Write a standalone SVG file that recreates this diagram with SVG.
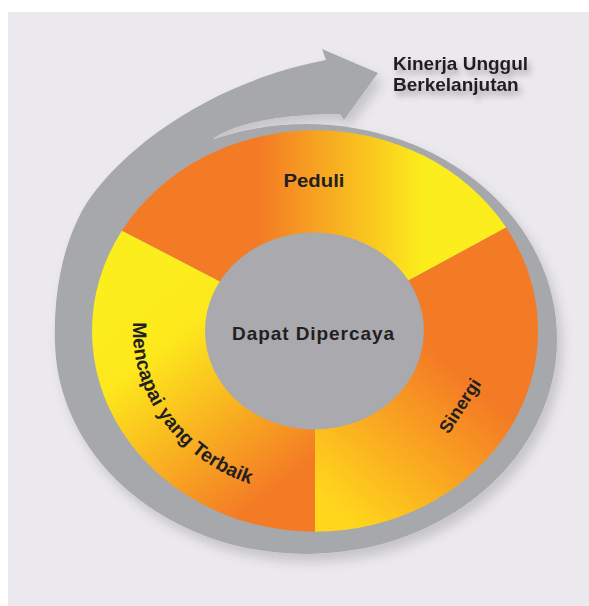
<svg xmlns="http://www.w3.org/2000/svg" width="589" height="606" viewBox="0 0 589 606">
<defs>
<style>
.lbl{font-family:"Liberation Sans",Arial,sans-serif;font-weight:700;fill:#231f20;}
.gray{fill:#a7a8ac;}
</style>
<linearGradient id="gTop" gradientUnits="userSpaceOnUse" x1="260" y1="200" x2="425" y2="200">
<stop offset="0" stop-color="#f47b25"/>
<stop offset="1" stop-color="#fcee1c"/>
</linearGradient>
<linearGradient id="gRight" gradientUnits="userSpaceOnUse" x1="470" y1="385" x2="350" y2="520">
<stop offset="0" stop-color="#f47b25"/>
<stop offset="1" stop-color="#ffd61c"/>
</linearGradient>
<linearGradient id="gLeft" gradientUnits="userSpaceOnUse" x1="140" y1="290" x2="285" y2="480">
<stop offset="0" stop-color="#fcee1c"/>
<stop offset="0.25" stop-color="#fde81c"/>
<stop offset="1" stop-color="#f47b25"/>
</linearGradient>
<filter id="ds" x="-10%" y="-10%" width="125%" height="125%">
<feDropShadow dx="5" dy="8" stdDeviation="6" flood-color="#000" flood-opacity="0.16"/>
</filter>
<filter id="ts" x="-20%" y="-60%" width="150%" height="260%">
<feGaussianBlur in="SourceAlpha" stdDeviation="3"/>
<feOffset dx="3" dy="5"/>
<feComponentTransfer><feFuncA type="linear" slope="0.3"/></feComponentTransfer>
<feMerge><feMergeNode/><feMergeNode in="SourceGraphic"/></feMerge>
</filter>
<path id="arcM" d="M133.2,322.4 A182,163.8 0 0 0 346.6,492.3" fill="none"/>
</defs>
<rect x="0" y="0" width="589" height="606" fill="#ffffff"/>
<rect x="8" y="12" width="581" height="594" fill="#ebe9ee"/>

<g id="connectors">
<g filter="url(#ds)">
<ellipse class="gray" cx="306" cy="339" rx="251" ry="215"/>
<path class="gray" d="M55,345 C53,290 64,246 80,215 C105,165 195,85 326,60 L322,49 L378,73 L344,120 L340,114 C282,114 236,123 214,138 L180,180 L120,260 Z"/>
</g>
</g>

<g id="peduli">
<path d="M121.9,230.65 A223,200.7 0 0 1 506.2,227.6 L408.4,280.5 A109,98.1 0 0 0 220.6,281.95 Z" fill="url(#gTop)"/>
<text class="lbl" x="314" y="187" font-size="18" text-anchor="middle" textLength="61" lengthAdjust="spacingAndGlyphs">Peduli</text>
</g>

<g id="sinergi">
<path d="M506.2,227.6 A223,200.7 0 0 1 315,531.7 L315,429.1 A109,98.1 0 0 0 408.4,280.5 Z" fill="url(#gRight)"/>
<text class="lbl" font-size="18" text-anchor="middle" transform="translate(460,406) rotate(-57)" x="0" y="6">Sinergi</text>
</g>

<g id="mencapai">
<path d="M315,531.7 A223,200.7 0 0 1 121.9,230.65 L220.6,281.95 A109,98.1 0 0 0 315,429.1 Z" fill="url(#gLeft)"/>
<text class="lbl" font-size="19.5"><textPath href="#arcM" startOffset="0">Mencapai</textPath></text>
<text class="lbl" font-size="19.5"><textPath href="#arcM" startOffset="95">yang</textPath></text>
<text class="lbl" font-size="19.5"><textPath href="#arcM" startOffset="146">Terbaik</textPath></text>
</g>

<g id="dapat">
<ellipse cx="314" cy="331" rx="109" ry="98.5" fill="#a9a9ae"/>
<text class="lbl" x="313" y="340" font-size="19" text-anchor="middle" textLength="162" lengthAdjust="spacing">Dapat Dipercaya</text>
</g>

<g id="kinerja" filter="url(#ts)">
<text class="lbl" x="393" y="70" font-size="19">Kinerja Unggul</text>
<text class="lbl" x="393" y="91" font-size="19">Berkelanjutan</text>
</g>
</svg>
